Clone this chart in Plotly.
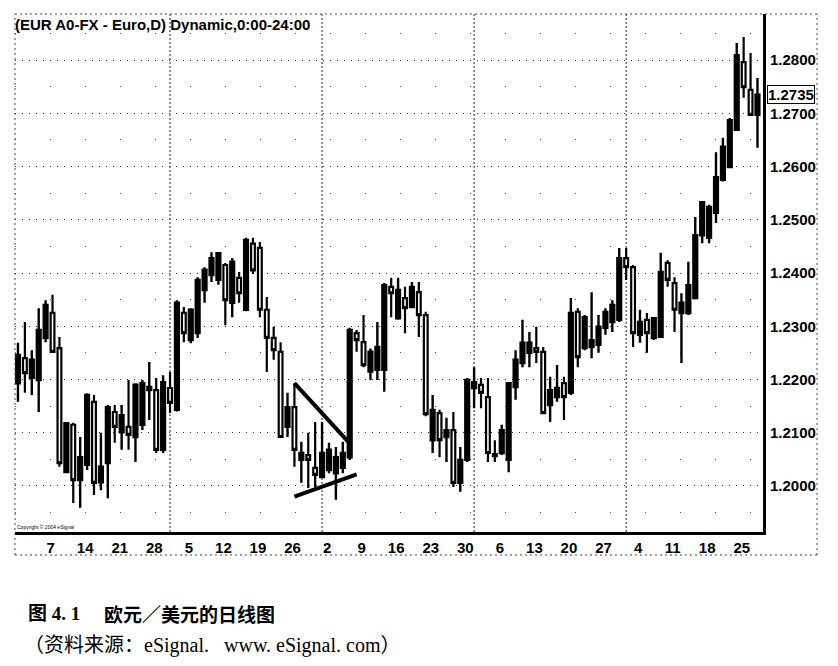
import pandas as pd
import plotly.graph_objects as go

# ---------------- data ----------------
dates = [d.strftime("%Y-%m-%d") for d in pd.bdate_range("2004-06-01", "2004-10-28")]

opens = [1.2193, 1.2240, 1.2203, 1.2199, 1.2278, 1.2325, 1.2259, 1.2026, 1.2115, 1.2011,
         1.2040, 1.2158, 1.2007, 1.2043, 1.2139, 1.2101, 1.2111, 1.2092, 1.2115, 1.2180,
         1.2180, 1.2068, 1.2184, 1.2143, 1.2325, 1.2274, 1.2287, 1.2368, 1.2396, 1.2387,
         1.2415, 1.2344, 1.2391, 1.2331, 1.2455, 1.2447, 1.2331, 1.2278, 1.2252, 1.2111,
         1.2148, 1.2049, 1.2058, 1.2034, 1.2017, 1.2030, 1.2024, 1.2034, 1.2054, 1.2287,
         1.2270, 1.2215, 1.2218, 1.2218, 1.2374, 1.2315, 1.2353, 1.2336, 1.2364, 1.2321,
         1.2086, 1.2137, 1.2092, 1.2105, 1.2006, 1.2049, 1.2184, 1.2190, 1.2167, 1.2060,
         1.2062, 1.2049, 1.2186, 1.2231, 1.2250, 1.2259, 1.2252, 1.2152, 1.2167, 1.2193,
         1.2175, 1.2327, 1.2259, 1.2261, 1.2265, 1.2297, 1.2308, 1.2312, 1.2428, 1.2411,
         1.2284, 1.2312, 1.2278, 1.2280, 1.2419, 1.2381, 1.2325, 1.2325, 1.2353, 1.2471,
         1.2466, 1.2513, 1.2575, 1.2599, 1.2669, 1.2796, 1.2744, 1.2697]
highs = [1.2269, 1.2308, 1.2255, 1.2334, 1.2349, 1.2359, 1.2280, 1.2120, 1.2119, 1.2092,
         1.2174, 1.2171, 1.2100, 1.2152, 1.2152, 1.2152, 1.2199, 1.2193, 1.2199, 1.2233,
         1.2203, 1.2208, 1.2214, 1.2349, 1.2336, 1.2334, 1.2392, 1.2411, 1.2439, 1.2439,
         1.2419, 1.2428, 1.2402, 1.2466, 1.2466, 1.2458, 1.2355, 1.2299, 1.2270, 1.2175,
         1.2193, 1.2083, 1.2100, 1.2120, 1.2120, 1.2081, 1.2073, 1.2083, 1.2297, 1.2293,
         1.2321, 1.2258, 1.2308, 1.2381, 1.2391, 1.2391, 1.2374, 1.2383, 1.2383, 1.2327,
         1.2171, 1.2143, 1.2128, 1.2139, 1.2073, 1.2203, 1.2223, 1.2203, 1.2203, 1.2086,
         1.2115, 1.2195, 1.2255, 1.2312, 1.2289, 1.2299, 1.2261, 1.2205, 1.2227, 1.2205,
         1.2353, 1.2334, 1.2321, 1.2364, 1.2321, 1.2334, 1.2349, 1.2447, 1.2447, 1.2415,
         1.2331, 1.2325, 1.2317, 1.2438, 1.2424, 1.2392, 1.2362, 1.2421, 1.2505, 1.2535,
         1.2528, 1.2627, 1.2654, 1.2691, 1.2832, 1.2843, 1.2813, 1.2766]
lows = [1.2158, 1.2175, 1.2171, 1.2139, 1.2270, 1.2250, 1.2036, 1.2024, 1.1968, 1.1959,
        1.2030, 1.1983, 1.1992, 1.1977, 1.2081, 1.2068, 1.2068, 1.2045, 1.2105, 1.2124,
        1.2062, 1.2062, 1.2137, 1.2140, 1.2270, 1.2268, 1.2278, 1.2344, 1.2383, 1.2378,
        1.2302, 1.2317, 1.2344, 1.2328, 1.2398, 1.2317, 1.2214, 1.2237, 1.2090, 1.2092,
        1.2036, 1.2006, 1.1996, 1.1998, 1.2015, 1.2024, 1.1974, 1.2024, 1.2049, 1.2252,
        1.2223, 1.2199, 1.2199, 1.2177, 1.2317, 1.2312, 1.2287, 1.2334, 1.2280, 1.2131,
        1.2062, 1.2054, 1.2045, 1.1998, 1.1989, 1.2045, 1.2146, 1.2146, 1.2045, 1.2045,
        1.2058, 1.2026, 1.2162, 1.2223, 1.2223, 1.2231, 1.2135, 1.2120, 1.2158, 1.2124,
        1.2171, 1.2223, 1.2255, 1.2240, 1.2250, 1.2284, 1.2289, 1.2308, 1.2387, 1.2261,
        1.2269, 1.2250, 1.2274, 1.2278, 1.2374, 1.2289, 1.2231, 1.2321, 1.2350, 1.2456,
        1.2456, 1.2494, 1.2572, 1.2597, 1.2667, 1.2729, 1.2695, 1.2635]
closes = [1.2246, 1.2212, 1.2237, 1.2293, 1.2340, 1.2252, 1.2043, 1.2118, 1.2011, 1.2054,
          1.2171, 1.2006, 1.2036, 1.2148, 1.2111, 1.2133, 1.2096, 1.2190, 1.2193, 1.2186,
          1.2068, 1.2195, 1.2156, 1.2344, 1.2287, 1.2331, 1.2387, 1.2406, 1.2428, 1.2437,
          1.2349, 1.2421, 1.2362, 1.2462, 1.2405, 1.2331, 1.2278, 1.2255, 1.2092, 1.2148,
          1.2068, 1.2062, 1.2049, 1.2021, 1.2062, 1.2068, 1.2054, 1.2062, 1.2293, 1.2274,
          1.2227, 1.2252, 1.2261, 1.2377, 1.2362, 1.2368, 1.2334, 1.2374, 1.2321, 1.2135,
          1.2143, 1.2086, 1.2105, 1.2006, 1.2049, 1.2199, 1.2195, 1.2175, 1.2062, 1.2056,
          1.2105, 1.2193, 1.2237, 1.2269, 1.2269, 1.2252, 1.2137, 1.2180, 1.2184, 1.2167,
          1.2325, 1.2242, 1.2317, 1.2274, 1.2299, 1.2327, 1.2340, 1.2428, 1.2411, 1.2287,
          1.2308, 1.2287, 1.2315, 1.2402, 1.2387, 1.2331, 1.2344, 1.2377, 1.2471, 1.2533,
          1.2524, 1.2580, 1.2637, 1.2687, 1.2809, 1.2749, 1.2697, 1.2735]

tick_dates = ["2004-06-07", "2004-06-14", "2004-06-21", "2004-06-28",
              "2004-07-05", "2004-07-12", "2004-07-19", "2004-07-26",
              "2004-08-02", "2004-08-09", "2004-08-16", "2004-08-23", "2004-08-30",
              "2004-09-06", "2004-09-13", "2004-09-20", "2004-09-27",
              "2004-10-04", "2004-10-11", "2004-10-18", "2004-10-25"]
tick_labels = ["7", "14", "21", "28", "5", "12", "19", "26", "2", "9", "16", "23", "30",
               "6", "13", "20", "27", "4", "11", "18", "25"]
month_starts = ["2004-07-01", "2004-08-02", "2004-09-01", "2004-10-01"]
price_ticks = [1.2000, 1.2100, 1.2200, 1.2300, 1.2400, 1.2500, 1.2600, 1.2700, 1.2800]

upper_trend_dates = ["2004-07-27", "2004-08-06"]
upper_trend_prices = [1.2193, 1.2080]
lower_trend_dates = ["2004-07-27", "2004-08-09"]
lower_trend_prices = [1.1980, 1.2022]

# ---------------- figure ----------------
pos = {d: i for i, d in enumerate(dates)}
xs = [pos[d] for d in dates]

OFF = 8                      # page body margin of the html page
W, H = 838 - OFF, 666 - OFF  # figure size
# plot area in page pixels: x 15..763, y 14..532
ML, MT = 15 - OFF, 14 - OFF
MR, MB = 838 - 763, 666 - 532
PW, PH = W - ML - MR, H - MT - MB


def px_x(p):  # page pixel -> paper x
    return (p - OFF - ML) / PW


def px_y(p):  # page pixel -> paper y
    return (H - MB - (p - OFF)) / PH


fig = go.Figure()
fig.add_trace(go.Candlestick(
    x=xs, open=opens, high=highs, low=lows, close=closes,
    increasing=dict(line=dict(color="black", width=2.4), fillcolor="black"),
    decreasing=dict(line=dict(color="black", width=2.2), fillcolor="white"),
    whiskerwidth=0, showlegend=False, hoverinfo="skip",
))
fig.add_trace(go.Scatter(
    x=[pos[d] for d in upper_trend_dates], y=upper_trend_prices, mode="lines",
    line=dict(color="black", width=4), showlegend=False, hoverinfo="skip"))
fig.add_trace(go.Scatter(
    x=[pos[d] for d in lower_trend_dates], y=lower_trend_prices, mode="lines",
    line=dict(color="black", width=4), showlegend=False, hoverinfo="skip"))

axfont = dict(family="Liberation Sans, Arial, sans-serif", size=15, color="black", weight="bold")

shapes = []
for m in month_starts:
    shapes.append(dict(type="line", xref="x", yref="paper", x0=pos[m], x1=pos[m], y0=0, y1=1,
                       line=dict(color="#222", width=1, dash="2px,2px"), layer="below"))
# dotted frame of the chart panel
frame = dict(color="#444", width=1, dash="2px,3px")
xr = px_x(817)
yb = px_y(555)
shapes += [
    dict(type="line", xref="paper", yref="paper", x0=0, x1=xr, y0=1, y1=1, line=frame),
    dict(type="line", xref="paper", yref="paper", x0=0, x1=0, y0=yb, y1=1, line=frame),
    dict(type="line", xref="paper", yref="paper", x0=xr, x1=xr, y0=yb, y1=1, line=frame),
    dict(type="line", xref="paper", yref="paper", x0=0, x1=xr, y0=yb, y1=yb, line=frame),
]

annotations = [
    dict(text="(EUR A0-FX - Euro,D) Dynamic,0:00-24:00", xref="paper", yref="paper",
         x=px_x(13), y=px_y(25), xanchor="left", yanchor="middle", showarrow=False,
         font=dict(family="Liberation Sans, Arial, sans-serif", size=15, color="black", weight="bold")),
    dict(text="Copyright © 2004 eSignal", xref="paper", yref="paper",
         x=px_x(15), y=px_y(527), xanchor="left", yanchor="middle", showarrow=False,
         font=dict(family="Liberation Sans, Arial, sans-serif", size=5, color="black")),
    dict(text=f"{closes[-1]:.4f}", xref="paper", yref="y", x=px_x(767), y=closes[-1],
         xanchor="left", yanchor="middle", showarrow=False, bordercolor="black",
         borderwidth=1, borderpad=0, bgcolor="white",
         font=dict(family="Liberation Sans, Arial, sans-serif", size=15, color="black", weight="bold")),
    dict(text="图 4. 1", xref="paper", yref="paper", x=px_x(26), y=px_y(613),
         xanchor="left", yanchor="middle", showarrow=False,
         font=dict(family="Liberation Serif, Noto Sans CJK SC", size=19, color="black", weight="bold")),
    dict(text="欧元／美元的日线图", xref="paper", yref="paper", x=px_x(102), y=px_y(613),
         xanchor="left", yanchor="middle", showarrow=False,
         font=dict(family="Noto Sans CJK SC", size=19, color="black", weight="bold")),
    dict(text="（资料来源：eSignal.   www. eSignal. com）", xref="paper", yref="paper",
         x=px_x(22), y=px_y(645), xanchor="left", yanchor="middle", showarrow=False,
         font=dict(family="Liberation Serif, Noto Sans CJK SC", size=20, color="black")),
]

fig.update_layout(
    width=W, height=H, autosize=False,
    margin=dict(l=ML, r=MR, t=MT, b=MB, pad=0),
    paper_bgcolor="white", plot_bgcolor="white",
    boxgap=0.22,
    shapes=shapes, annotations=annotations,
    xaxis=dict(
        range=[-0.43, 107.8], rangeslider=dict(visible=False),
        tickmode="array", tickvals=[pos[d] for d in tick_dates], ticktext=tick_labels,
        ticklabelshift=5, ticks="", showgrid=False, zeroline=False,
        showline=True, linecolor="black", linewidth=3, tickfont=axfont,
    ),
    yaxis=dict(
        side="right", range=[1.19136, 1.28864],
        tickmode="array", tickvals=price_ticks, ticktext=[f"{v:.4f}" for v in price_ticks],
        ticks="", ticklabelstandoff=1, tickfont=axfont,
        showline=True, linecolor="black", linewidth=3, zeroline=False,
        showgrid=True, gridcolor="#333", gridwidth=1, griddash="1px,6px",
        minor=dict(dtick=0.005, tick0=1.2, showgrid=True, gridcolor="#555",
                   griddash="1px,34px", gridwidth=1),
    ),
)

fig.write_html("out.html")
